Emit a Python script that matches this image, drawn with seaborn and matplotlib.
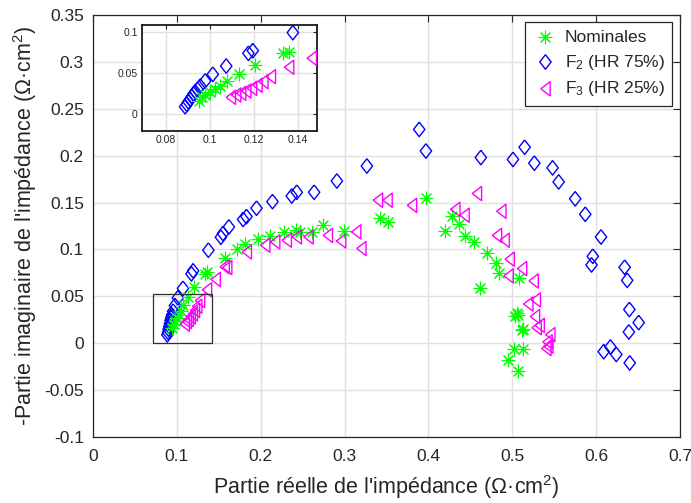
import warnings
warnings.filterwarnings("ignore")
import matplotlib
matplotlib.use("Agg")
import matplotlib.pyplot as plt
import seaborn as sns
import pandas as pd
from matplotlib.patches import Rectangle
from matplotlib.ticker import FuncFormatter

# ---------------- data ----------------
nom_x = [0.0947, 0.0962, 0.0977, 0.1000, 0.1023, 0.1045, 0.1076, 0.1132, 0.1205, 0.1333, 0.1360,
         0.1575, 0.1722, 0.1814, 0.1973, 0.2112, 0.2280, 0.2419, 0.2470, 0.2617, 0.2748, 0.2995,
         0.3417, 0.3512, 0.3974, 0.4280, 0.4370, 0.4200, 0.4440, 0.4547, 0.4698, 0.4810, 0.4845,
         0.5075, 0.4618, 0.5056, 0.5036, 0.5070, 0.5128, 0.5120, 0.5024, 0.5123, 0.4948, 0.5068]
nom_y = [0.0163, 0.0203, 0.0232, 0.0272, 0.0301, 0.0341, 0.0406, 0.0488, 0.0598, 0.0740, 0.0756,
         0.0914, 0.1000, 0.1055, 0.1110, 0.1144, 0.1187, 0.1205, 0.1190, 0.1190, 0.1258, 0.1197,
         0.1330, 0.1294, 0.1550, 0.1354, 0.1276, 0.1197, 0.1144, 0.1080, 0.0967, 0.0856, 0.0750,
         0.0700, 0.0594, 0.0317, 0.0288, 0.0300, 0.0157, 0.0140, -0.0057, -0.0057, -0.0180, -0.0295]

f2_x = [0.0886, 0.0894, 0.0901, 0.0909, 0.0917, 0.0924, 0.0932, 0.0942, 0.0955, 0.0977, 0.1012,
        0.1073, 0.1174, 0.1194, 0.1376, 0.1525, 0.1550, 0.1620, 0.1790, 0.1830, 0.1950, 0.2140,
        0.2370, 0.2430, 0.2637, 0.2908, 0.3266, 0.3890, 0.3970, 0.4625, 0.5008, 0.5147, 0.5263,
        0.5480, 0.5553, 0.5750, 0.5870, 0.6058, 0.5960, 0.5945, 0.6340, 0.6370, 0.6396, 0.6507,
        0.6390, 0.6170, 0.6090, 0.6240, 0.6400]
f2_y = [0.0089, 0.0118, 0.0150, 0.0179, 0.0211, 0.0244, 0.0272, 0.0301, 0.0341, 0.0402, 0.0484,
        0.0585, 0.0740, 0.0772, 0.0992, 0.1130, 0.1170, 0.1240, 0.1320, 0.1350, 0.1440, 0.1510,
        0.1570, 0.1610, 0.1610, 0.1730, 0.1890, 0.2280, 0.2050, 0.1980, 0.1960, 0.2090, 0.1920,
        0.1870, 0.1720, 0.1540, 0.1375, 0.1133, 0.0927, 0.0835, 0.0810, 0.0670, 0.0360, 0.0220,
        0.0120, -0.0040, -0.0090, -0.0120, -0.0210]

f3_x = [0.1094, 0.1118, 0.1141, 0.1164, 0.1190, 0.1215, 0.1242, 0.1276, 0.1359, 0.1462,
        0.1570, 0.1600, 0.1834, 0.2053, 0.2172, 0.2310, 0.2430, 0.2570, 0.2800, 0.2958, 0.3200,
        0.3138, 0.3397, 0.3512, 0.3803, 0.4320, 0.4430, 0.4578, 0.4869, 0.4817, 0.4908, 0.4968,
        0.5116, 0.4956, 0.5254, 0.5280, 0.5190, 0.5270, 0.5326, 0.5290, 0.5453, 0.5420, 0.5406,
        0.5430]
f3_y = [0.0203, 0.0232, 0.0252, 0.0280, 0.0313, 0.0350, 0.0394, 0.0455, 0.0570, 0.0680,
        0.0815, 0.0807, 0.0973, 0.1045, 0.1080, 0.1098, 0.1133, 0.1133, 0.1150, 0.1090, 0.1010,
        0.1187, 0.1525, 0.1525, 0.1470, 0.1428, 0.1365, 0.1596, 0.1407, 0.1150, 0.1098, 0.0896,
        0.0796, 0.0718, 0.0664, 0.0462, 0.0418, 0.0285, 0.0190, 0.0165, 0.0092, 0.0014, -0.0057,
        -0.0030]

labels = ["Nominales", "F$_\\mathregular{2}$ (HR 75%)", "F$_\\mathregular{3}$ (HR 25%)"]
x_ticks = [0, 0.1, 0.2, 0.3, 0.4, 0.5, 0.6, 0.7]
y_ticks = [-0.1, -0.05, 0, 0.05, 0.1, 0.15, 0.2, 0.25, 0.3, 0.35]
inset_x_ticks = [0.08, 0.1, 0.12, 0.14]
inset_y_ticks = [0, 0.05, 0.1]

nom = pd.DataFrame({"x": nom_x, "y": nom_y})
f2 = pd.DataFrame({"x": f2_x, "y": f2_y})
f3 = pd.DataFrame({"x": f3_x, "y": f3_y})

# ---------------- style ----------------
sns.set_theme(style="whitegrid")
plt.rcParams['font.family'] = ['Liberation Sans', 'DejaVu Sans']
plt.rcParams['mathtext.fontset'] = 'custom'
plt.rcParams['mathtext.rm'] = 'Liberation Sans'
plt.rcParams['mathtext.it'] = 'Liberation Sans:italic'
plt.rcParams['axes.edgecolor'] = '#262626'
plt.rcParams['grid.color'] = '#e0e0e0'
plt.rcParams['grid.linewidth'] = 1.0

GREEN = '#00ff00'
BLUE = '#0000ff'
MAGENTA = '#ff00ff'
DIAMOND = [(0, 1), (0.78, 0), (0, -1), (-0.78, 0), (0, 1)]
TRI_LEFT = [(-0.66, 0), (0.66, 1), (0.66, -1), (-0.66, 0)]
ASTER = (8, 2, 0)

fig = plt.figure(figsize=(6.91, 5.03), dpi=100)
ax = fig.add_axes([0.1346, 0.1312, 0.8495, 0.839])


def draw(a, legend_labels=True):
    sns.scatterplot(data=f2, x="x", y="y", ax=a, marker=DIAMOND, s=110,
                    facecolor='none', edgecolor=BLUE, linewidth=1.0,
                    label=labels[1] if legend_labels else None, zorder=3)
    sns.scatterplot(data=nom, x="x", y="y", ax=a, marker=ASTER, s=85,
                    color=GREEN, linewidth=0.8,
                    label=labels[0] if legend_labels else None, zorder=4)
    sns.scatterplot(data=f3, x="x", y="y", ax=a, marker=TRI_LEFT, s=105,
                    facecolor='none', edgecolor=MAGENTA, linewidth=1.0,
                    label=labels[2] if legend_labels else None, zorder=5)


draw(ax)
fmt = FuncFormatter(lambda v, p: "%g" % round(v, 4))

ax.set_xlim(0, 0.7)
ax.set_ylim(-0.1, 0.35)
ax.set_xticks(x_ticks)
ax.set_yticks(y_ticks)
ax.xaxis.set_major_formatter(fmt)
ax.yaxis.set_major_formatter(fmt)
ax.tick_params(direction='in', length=5, width=0.8, top=True, right=True,
               labelsize=12.5, colors='#262626')
ax.tick_params(axis='x', pad=8.5)
ax.tick_params(axis='y', pad=6.5)
for sp in ax.spines.values():
    sp.set_linewidth(0.9)
    sp.set_color('#262626')
ax.set_xlabel("Partie réelle de l'impédance (\u03a9\u00b7cm$^\\mathregular{2}$)", fontsize=15.5,
              color='#262626', labelpad=6.5)
ax.set_ylabel("-Partie imaginaire de l'impédance (\u03a9\u00b7cm$^\\mathregular{2}$)", fontsize=15.5,
              color='#262626', labelpad=4)
ax.grid(True, color='#e0e0e0', linewidth=1.0)
ax.set_axisbelow(True)

ax.add_patch(Rectangle((0.072, 0.0), 0.070, 0.052, fill=False, edgecolor='#303030',
                       linewidth=0.9, zorder=6))

handles, labs = ax.get_legend_handles_labels()
order = [labs.index(l) for l in labels]
leg = ax.legend([handles[i] for i in order], [labs[i] for i in order],
                loc='upper right', bbox_to_anchor=(0.987, 0.984), borderaxespad=0,
                fontsize=12.5, frameon=True, fancybox=False, framealpha=1,
                edgecolor='#262626', handletextpad=0.4, labelspacing=0.45,
                borderpad=0.45, handlelength=1.4)
leg.get_frame().set_linewidth(0.9)

# ---------------- inset ----------------
axi = fig.add_axes([0.2055, 0.7396, 0.2533, 0.2107])
axi.set_facecolor('white')
draw(axi, legend_labels=False)
axi.set_xlim(0.069, 0.1486)
axi.set_ylim(-0.0207, 0.1085)
axi.set_xticks(inset_x_ticks)
axi.set_yticks(inset_y_ticks)
axi.xaxis.set_major_formatter(fmt)
axi.yaxis.set_major_formatter(fmt)
axi.tick_params(direction='in', length=3, width=0.8, top=True, right=True,
                labelsize=7.5, colors='#262626', pad=3)
axi.set_xlabel("")
axi.set_ylabel("")
axi.grid(True, color='#e0e0e0', linewidth=1.0)
axi.set_axisbelow(True)
for sp in axi.spines.values():
    sp.set_linewidth(1.3)
    sp.set_color('#1a1a1a')
if axi.get_legend() is not None:
    axi.get_legend().remove()

fig.savefig("out.png", dpi=100)
